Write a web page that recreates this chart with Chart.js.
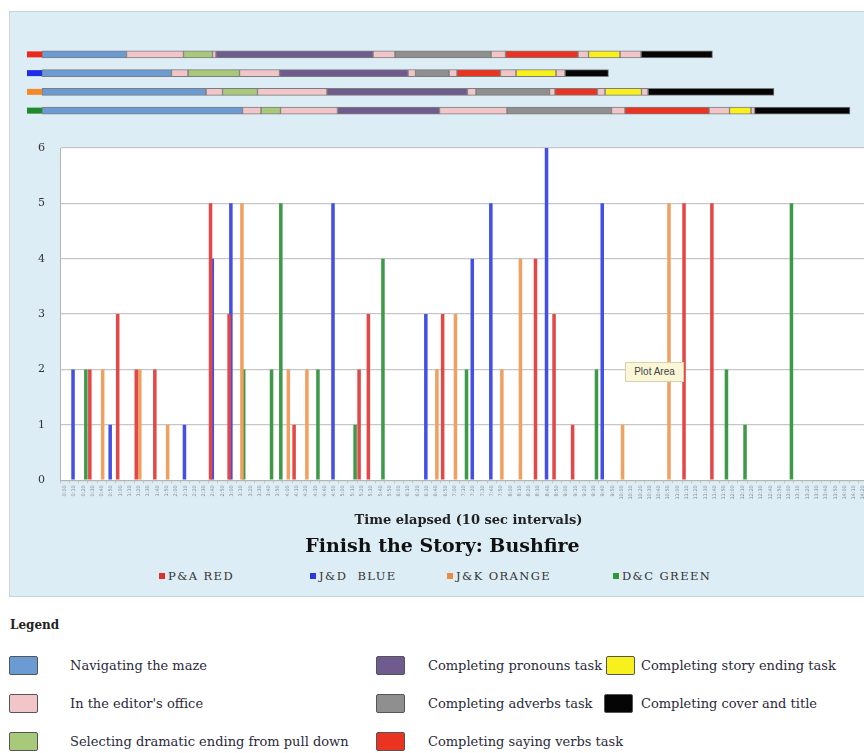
<!DOCTYPE html>
<html>
<head>
<meta charset="utf-8">
<title>Finish the Story: Bushfire</title>
<script src="https://cdn.jsdelivr.net/npm/chart.js@4.4.1/dist/chart.umd.min.js"></script>
<style>
  html, body { margin: 0; padding: 0; background: #fff; }
  body { position: relative; width: 864px; height: 753px; overflow: hidden; font-family: 'DejaVu Serif', serif; color: #222; }
  #panel { position: absolute; left: 9px; top: 11px; width: 890px; height: 584px; background: #ddedf5; border: 1px solid #c6d5dc; }
  #timeline { position: absolute; left: 27px; top: 45px; }
  #bars { position: absolute; left: 8px; top: 120px; }
  .series-key { position: absolute; top: 570px; font-size: 11.5px; letter-spacing: 1.4px; color: #333; white-space: nowrap; line-height: 13px; }
  .series-key i { display: inline-block; width: 6px; height: 6px; margin-right: 3px; vertical-align: 1px; }
  #tip { position: absolute; left: 625px; top: 362px; width: 59px; height: 20px; background: #fbf6d6; border: 1px solid #d8d2b0; font: 10px 'Liberation Sans', sans-serif; color: #444; line-height: 18px; text-align: center; box-sizing: border-box; }
  #key-title { position: absolute; left: 10px; top: 618px; font-weight: bold; font-size: 12px; }
  .key { position: absolute; font-size: 13px; line-height: 20px; white-space: nowrap; color: #2a2a3a; }
  .swatch { position: absolute; width: 27px; height: 17px; border: 1px solid #555; border-radius: 2px; }
</style>
</head>
<body>
<div id="panel"></div>
<canvas id="timeline" width="837" height="75"></canvas>
<canvas id="bars" width="874" height="440"></canvas>

<div class="series-key" style="left:159px"><i style="background:#e0302a"></i>P&amp;A RED</div>
<div class="series-key" style="left:310px"><i style="background:#2a3ae0"></i>J&amp;D &nbsp;BLUE</div>
<div class="series-key" style="left:447px"><i style="background:#f08a3c"></i>J&amp;K ORANGE</div>
<div class="series-key" style="left:613px"><i style="background:#2a9a3a"></i>D&amp;C GREEN</div>

<div id="tip">Plot Area</div>

<div id="key-title">Legend</div>
<div id="key"></div>

<script>
// ---- timeline rows (one per team), seconds spent in each stage ----
const teams = ['P&A RED', 'J&D  BLUE', 'J&K ORANGE', 'D&C GREEN']
const teamColors = ['#e8291c', '#1f2ee6', '#f28a2a', '#1e8a2c']

const stages = ['maze', 'office', 'dramatic', 'office', 'pronouns', 'office', 'adverbs', 'office', 'verbs', 'office', 'ending', 'office', 'cover']
const paStages = [169, 114, 58, 7, 314, 44, 192, 29, 145, 21, 63, 42, 143]
const jdStages = [259, 33, 103, 80, 257, 15, 67, 16, 87, 31, 80, 18, 87]
const jkStages = [328, 33, 70, 139, 281, 17, 147, 11, 85, 15, 73, 13, 252]
const dcStages = [401, 37, 39, 114, 204, 135, 209, 27, 168, 41, 43, 7, 191]

const activityNames = {
  maze: 'Navigating the maze',
  office: "In the editor's office",
  dramatic: 'Selecting dramatic ending from pull down',
  pronouns: 'Completing pronouns task',
  adverbs: 'Completing adverbs task',
  verbs: 'Completing saying verbs task',
  ending: 'Completing story ending task',
  cover: 'Completing cover and title'
}
const activityColors = {
  maze: '#6a9bd2',
  office: '#f2c6c8',
  dramatic: '#a9c97a',
  pronouns: '#6f5b8e',
  adverbs: '#8f8f8f',
  verbs: '#ea3320',
  ending: '#f7ef1e',
  cover: '#050505'
}

// ---- bar chart: activity count per 10 sec interval ----
const timeLabels = [
  '0:00', '0:10', '0:20', '0:30', '0:40', '0:50', '1:00', '1:10', '1:20', '1:30', '1:40', '1:50',
  '2:00', '2:10', '2:20', '2:30', '2:40', '2:50', '3:00', '3:10', '3:20', '3:30', '3:40', '3:50',
  '4:00', '4:10', '4:20', '4:30', '4:40', '4:50', '5:00', '5:10', '5:20', '5:30', '5:40', '5:50',
  '6:00', '6:10', '6:20', '6:30', '6:40', '6:50', '7:00', '7:10', '7:20', '7:30', '7:40', '7:50',
  '8:00', '8:10', '8:20', '8:30', '8:40', '8:50', '9:00', '9:10', '9:20', '9:30', '9:40', '9:50',
  '10:00', '10:10', '10:20', '10:30', '10:40', '10:50', '11:00', '11:10', '11:20', '11:30', '11:40', '11:50',
  '12:00', '12:10', '12:20', '12:30', '12:40', '12:50', '13:00', '13:10', '13:20', '13:30', '13:40', '13:50',
  '14:00', '14:10', '14:20', '14:30'
]
const paRed = [
  0, 0, 0, 2, 0, 0, 3, 0, 2, 0,
  2, 0, 0, 0, 0, 0, 5, 0, 3, 0,
  0, 0, 0, 0, 0, 1, 0, 0, 0, 0,
  0, 0, 2, 3, 0, 0, 0, 0, 0, 0,
  0, 3, 0, 0, 0, 0, 0, 0, 0, 0,
  0, 4, 0, 3, 0, 1, 0, 0, 0, 0,
  0, 0, 0, 0, 0, 0, 0, 5, 0, 0,
  5, 0, 0, 0, 0, 0, 0, 0, 0, 0,
  0, 0, 0, 0, 0, 0, 0, 0
]
const jdBlue = [
  0, 2, 0, 0, 0, 1, 0, 0, 0, 0,
  0, 0, 0, 1, 0, 0, 4, 0, 5, 0,
  0, 0, 0, 0, 0, 0, 0, 0, 0, 5,
  0, 0, 0, 0, 0, 0, 0, 0, 0, 3,
  0, 0, 0, 0, 4, 0, 5, 0, 0, 0,
  0, 0, 6, 0, 0, 0, 0, 0, 5, 0,
  0, 0, 0, 0, 0, 0, 0, 0, 0, 0,
  0, 0, 0, 0, 0, 0, 0, 0, 0, 0,
  0, 0, 0, 0, 0, 0, 0, 0
]
const jkOrange = [
  0, 0, 0, 0, 2, 0, 0, 0, 2, 0,
  0, 1, 0, 0, 0, 0, 0, 0, 0, 5,
  0, 0, 0, 0, 2, 0, 2, 0, 0, 0,
  0, 0, 0, 0, 0, 0, 0, 0, 0, 0,
  2, 0, 3, 0, 0, 0, 0, 2, 0, 4,
  0, 0, 0, 0, 0, 0, 0, 0, 0, 0,
  1, 0, 0, 0, 0, 5, 0, 0, 0, 0,
  0, 0, 0, 0, 0, 0, 0, 0, 0, 0,
  0, 0, 0, 0, 0, 0, 0, 0
]
const dcGreen = [
  0, 0, 2, 0, 0, 0, 0, 0, 0, 0,
  0, 0, 0, 0, 0, 0, 0, 0, 0, 2,
  0, 0, 2, 5, 0, 0, 0, 2, 0, 0,
  0, 1, 0, 0, 4, 0, 0, 0, 0, 0,
  0, 0, 0, 2, 0, 0, 0, 0, 0, 0,
  0, 0, 0, 0, 0, 0, 0, 2, 0, 0,
  0, 0, 0, 0, 0, 0, 0, 0, 0, 0,
  0, 2, 0, 1, 0, 0, 0, 0, 5, 0,
  0, 0, 0, 0, 0, 0, 0, 0
]
const yTicks = [0, 1, 2, 3, 4, 5, 6]

// small coloured team tag at the start of every timeline row
const teamTags = {
  id: 'teamTags',
  afterDatasetsDraw (chart) {
    const { ctx, chartArea, scales: { y } } = chart
    teams.forEach((t, i) => {
      const yc = y.getPixelForValue(i)
      ctx.fillStyle = teamColors[i]
      ctx.fillRect(chartArea.left - 15, yc - 3, 15, 6)
    })
  }
}

new Chart(document.getElementById('timeline'), {
  type: 'bar',
  data: {
    labels: teams,
    datasets: stages.map((s, k) => ({
      label: activityNames[s],
      data: [paStages[k], jdStages[k], jkStages[k], dcStages[k]],
      backgroundColor: activityColors[s],
      borderColor: '#7c7c7c',
      borderWidth: 1,
      borderSkipped: false,
      barThickness: 7
    }))
  },
  options: {
    indexAxis: 'y',
    responsive: false,
    animation: false,
    devicePixelRatio: 1,
    layout: { padding: { left: 15, right: 0, top: 0, bottom: 0 } },
    scales: {
      x: { stacked: true, display: false, min: 0, max: 1644 },
      y: { stacked: true, display: false }
    },
    plugins: { legend: { display: false }, tooltip: { enabled: false } }
  },
  plugins: [teamTags]
})

// white plot area inside the blue panel
const plotFill = {
  id: 'plotFill',
  beforeDraw (chart) {
    const { ctx, chartArea: a } = chart
    ctx.save()
    ctx.fillStyle = '#ffffff'
    ctx.fillRect(a.left, a.top, a.right - a.left, a.bottom - a.top)
    ctx.restore()
  }
}

const serif = 'DejaVu Serif'
new Chart(document.getElementById('bars'), {
  type: 'bar',
  data: {
    labels: timeLabels,
    datasets: [
      { label: 'P&A RED', data: paRed, backgroundColor: '#e24848' },
      { label: 'J&D  BLUE', data: jdBlue, backgroundColor: '#4450e4' },
      { label: 'J&K ORANGE', data: jkOrange, backgroundColor: '#f0a060' },
      { label: 'D&C GREEN', data: dcGreen, backgroundColor: '#3e9a48' }
    ]
  },
  options: {
    responsive: false,
    animation: false,
    devicePixelRatio: 1,
    datasets: { bar: { categoryPercentage: 0.76, barPercentage: 2.0 } },
    layout: { padding: { top: 28, right: 5, left: 0, bottom: 0 } },
    scales: {
      x: {
        grid: { drawOnChartArea: false, drawTicks: true, tickLength: 3, color: '#c4c4c4' },
        border: { color: '#b4b4b4' },
        ticks: { autoSkip: false, minRotation: 90, maxRotation: 90, font: { family: 'DejaVu Sans', size: 5 }, color: '#8a8a8a', padding: 2 },
        title: { display: true, text: 'Time elapsed (10 sec intervals)', font: { family: serif, size: 13, weight: 'bold' }, color: '#222', padding: { top: 4, bottom: 2 } },
        afterFit (scale) { scale.height = 50 }
      },
      y: {
        min: 0,
        max: 6,
        afterBuildTicks (scale) { scale.ticks = yTicks.map(v => ({ value: v })) },
        ticks: { font: { family: serif, size: 11 }, color: '#333', padding: 15 },
        grid: { color: '#c6c6c6', lineWidth: 1.3, drawTicks: false },
        border: { color: '#b4b4b4' },
        afterFit (scale) { scale.width = 52 }
      }
    },
    plugins: {
      title: {
        display: true,
        position: 'bottom',
        weight: 500,
        text: 'Finish the Story: Bushfire',
        font: { family: serif, size: 19, weight: 'bold' },
        color: '#111',
        padding: { top: 5, bottom: 2 }
      },
      legend: { display: false },
      tooltip: { enabled: false }
    }
  },
  plugins: [plotFill]
})

// activity key below the chart
const keyLayout = [
  ['maze', 9, 656, 70], ['office', 9, 694, 70], ['dramatic', 9, 732, 70],
  ['pronouns', 376, 656, 428], ['adverbs', 376, 694, 428], ['verbs', 376, 732, 428],
  ['ending', 606, 656, 641], ['cover', 604, 694, 641]
]
const key = document.getElementById('key')
keyLayout.forEach(([a, sx, sy, tx]) => {
  const sw = document.createElement('div')
  sw.className = 'swatch'
  sw.style.cssText = `left:${sx}px;top:${sy}px;background:${activityColors[a]}`
  key.appendChild(sw)
  const label = document.createElement('div')
  label.className = 'key'
  label.style.cssText = `left:${tx}px;top:${sy}px`
  label.textContent = activityNames[a]
  key.appendChild(label)
})
</script>
</body>
</html>
